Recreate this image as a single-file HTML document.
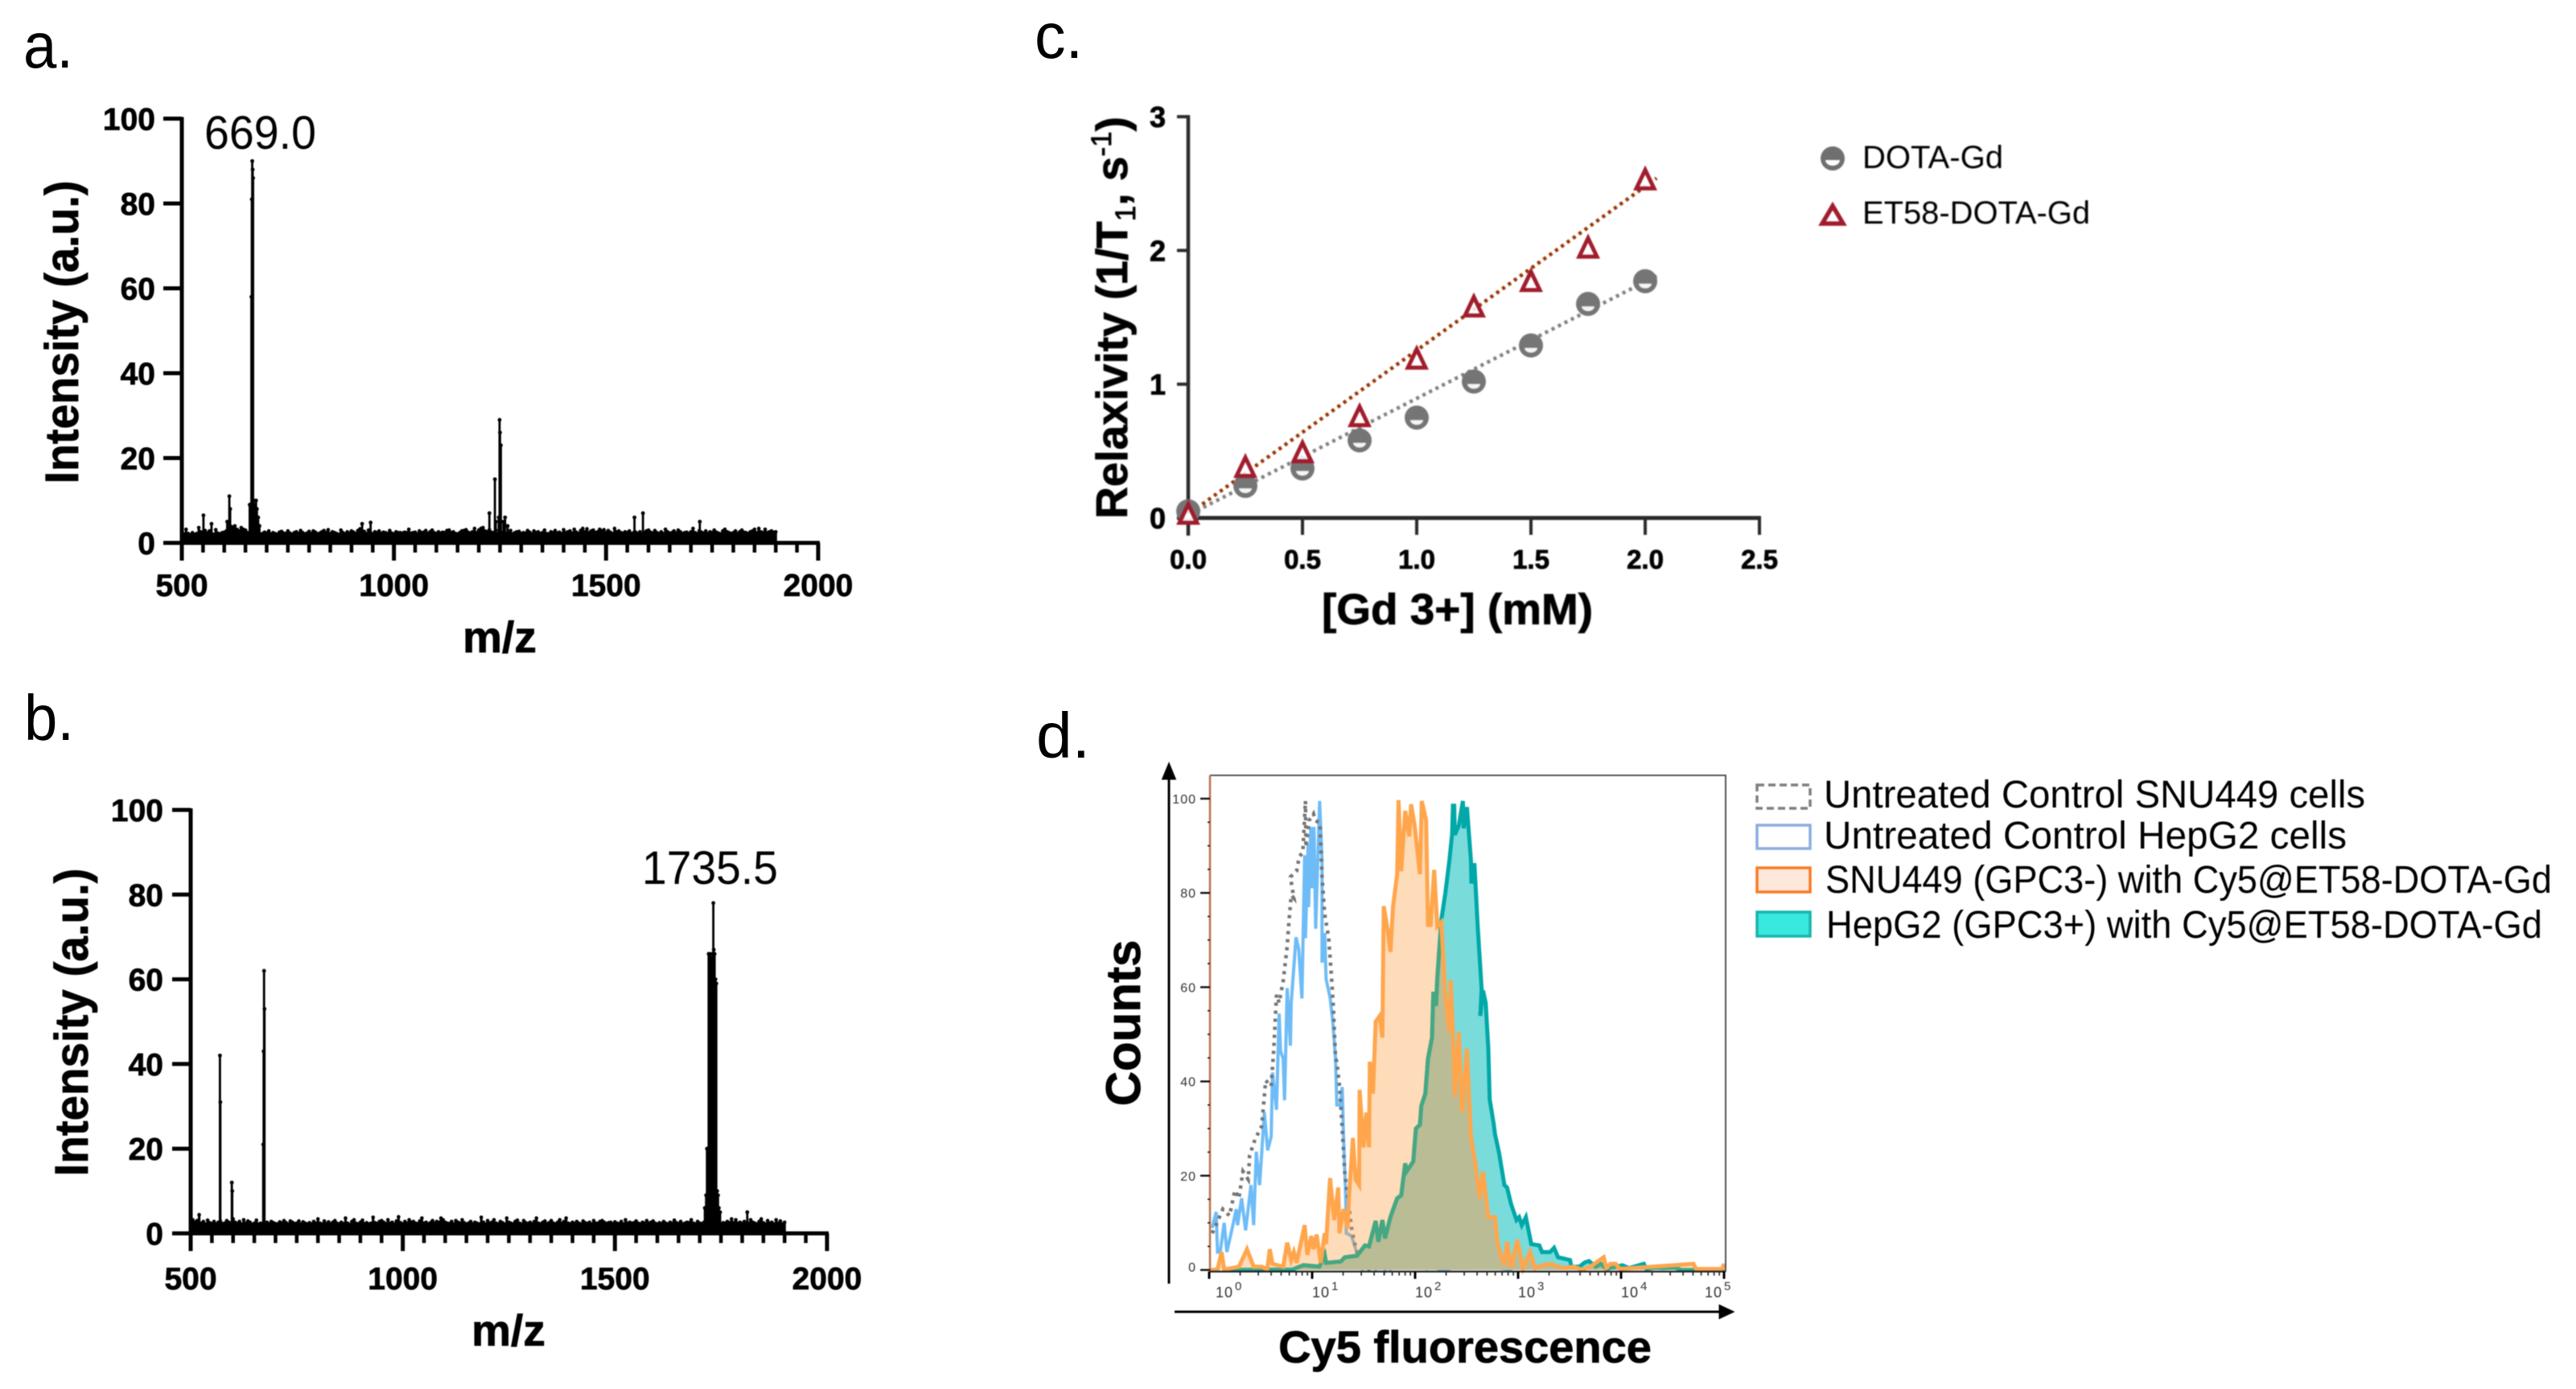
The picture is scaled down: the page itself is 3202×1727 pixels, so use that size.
<!DOCTYPE html>
<html lang="en">
<head>
<meta charset="utf-8">
<title>Characterisation of ET58-DOTA-Gd</title>
<style>
  html,body{margin:0;padding:0;background:#fff;}
  svg{display:block;}
  text{font-family:"Liberation Sans",sans-serif;fill:#000;}
  .b{font-weight:700;stroke:#000;stroke-width:.8px;}
</style>
</head>
<body>
<svg id="fig" xmlns="http://www.w3.org/2000/svg" width="3202" height="1727" viewBox="0 0 3202 1727">
  <defs>
    <clipPath id="tealClip"><path id="tealClipPath" d=""/></clipPath>
    <clipPath id="orangeClip"><path id="orangeClipPath" d=""/></clipPath>
  </defs>
  <rect x="0" y="0" width="3202" height="1727" fill="#fff"/>

  <text x="29" y="84" font-size="80" textLength="62" lengthAdjust="spacingAndGlyphs">a.</text>
  <text x="30" y="920" font-size="80" textLength="62" lengthAdjust="spacingAndGlyphs">b.</text>
  <text x="1286" y="72" font-size="80" textLength="60" lengthAdjust="spacingAndGlyphs">c.</text>
  <text x="1288" y="942" font-size="80" textLength="67" lengthAdjust="spacingAndGlyphs">d.</text>

  <g id="panelA" style="filter:blur(.6px)">
    <text class="b" transform="translate(97,413) rotate(-90)" text-anchor="middle" font-size="58" textLength="377" lengthAdjust="spacingAndGlyphs">Intensity (a.u.)</text>
    <text class="b" x="621" y="811" text-anchor="middle" font-size="55">m/z</text>
    <text x="254" y="185" font-size="58" textLength="139" lengthAdjust="spacingAndGlyphs">669.0</text>
  </g>

  <g id="panelB" style="filter:blur(.6px)">
    <text class="b" transform="translate(109,1271) rotate(-90)" text-anchor="middle" font-size="58" textLength="383" lengthAdjust="spacingAndGlyphs">Intensity (a.u.)</text>
    <text class="b" x="632" y="1673" text-anchor="middle" font-size="55">m/z</text>
    <text x="798" y="1099" font-size="58" textLength="169" lengthAdjust="spacingAndGlyphs">1735.5</text>
  </g>

  <g id="panelC" style="filter:blur(.9px)">
    <text class="b" transform="translate(1401,645) rotate(-90)" font-size="55">Relaxivity (1/T<tspan font-size="35" dy="10" font-weight="400">1</tspan><tspan dy="-10">, s</tspan><tspan font-size="35" dy="-20" font-weight="400">-1</tspan><tspan dy="20">)</tspan></text>
    <text class="b" x="1643" y="776" font-size="54" textLength="337" lengthAdjust="spacingAndGlyphs">[Gd 3+] (mM)</text>
    <g>
      <circle cx="2278" cy="197" r="15" fill="#6f6f6f"/>
      <path d="M2269 199h18a9 7 0 0 1-18 0z" fill="#fff"/>
      <text x="2315" y="209" font-size="40" textLength="175" lengthAdjust="spacingAndGlyphs">DOTA-Gd</text>
      <path d="M2278 256L2291 278H2265Z" fill="#fff" stroke="#a01c2c" stroke-width="5.5"/>
      <text x="2315" y="278" font-size="40" textLength="283" lengthAdjust="spacingAndGlyphs">ET58-DOTA-Gd</text>
    </g>
  </g>

  <g id="panelD" style="filter:blur(.5px)">
    <text class="b" transform="translate(1417,1272) rotate(-90)" text-anchor="middle" font-size="60">Counts</text>
    <text class="b" x="1821" y="1694" text-anchor="middle" font-size="56">Cy5 fluorescence</text>
    <g>
      <rect x="2184" y="976" width="66" height="29" fill="#fff" stroke="#7f7f7f" stroke-width="3.5" stroke-dasharray="9 5"/>
      <text x="2267" y="1004" font-size="48" textLength="673" lengthAdjust="spacingAndGlyphs">Untreated Control SNU449 cells</text>
      <rect x="2184" y="1026" width="66" height="29" fill="#fff" stroke="#8aaee0" stroke-width="3.5"/>
      <text x="2267" y="1055" font-size="48" textLength="650" lengthAdjust="spacingAndGlyphs">Untreated Control HepG2 cells</text>
      <rect x="2184" y="1079" width="66" height="30" fill="#fde8dc" stroke="#f97b25" stroke-width="3.5"/>
      <text x="2269" y="1110" font-size="48" textLength="903" lengthAdjust="spacingAndGlyphs">SNU449 (GPC3-) with Cy5@ET58-DOTA-Gd</text>
      <rect x="2184" y="1134" width="66" height="30" fill="#38e9df" stroke="#1ab5ac" stroke-width="3.5"/>
      <text x="2270" y="1166" font-size="48" textLength="890" lengthAdjust="spacingAndGlyphs">HepG2 (GPC3+) with Cy5@ET58-DOTA-Gd</text>
    </g>
  </g>
</svg>

<script>
/* ---------- Panel a / b: mass spectra ---------- */
const spectrumXTicks = [500, 1000, 1500, 2000];
const spectrumYTicks = [0, 20, 40, 60, 80, 100];
const spectrumMinorStep = 50;

const noiseA = [
2.6,2.1,3.2,2.2,1.9,2.4,2.0,2.2,3.6,2.6,2.1,2.9,2.3,2.8,2.2,2.0,3.1,2.3,2.1,2.4,
2.5,2.8,3.0,2.9,3.4,4.0,3.2,2.8,3.6,3.2,3.0,2.4,2.2,2.6,2.2,2.1,2.4,2.0,2.2,2.5,
2.3,2.8,2.1,2.4,2.2,2.0,2.5,2.7,2.3,2.2,2.8,2.3,2.0,2.4,2.6,2.2,2.9,2.4,2.1,2.3,
2.7,2.2,2.8,2.5,2.1,2.3,2.6,2.9,2.4,3.1,2.2,2.6,2.4,2.2,2.0,3.0,2.4,2.1,2.6,2.3,
2.8,2.5,2.2,2.9,3.3,2.4,2.7,2.2,3.0,2.4,2.1,2.6,2.4,2.8,2.2,2.5,2.4,2.2,2.9,2.3,
2.1,2.6,2.4,2.4,2.3,2.5,2.4,3.2,2.3,2.4,2.5,2.1,2.8,2.4,2.5,2.9,2.2,2.6,3.0,2.4,
2.2,2.6,2.3,2.5,2.4,2.9,3.0,2.4,2.6,2.2,2.1,2.4,2.8,2.9,3.1,2.5,2.3,2.6,3.4,2.4,
3.0,3.4,3.6,2.8,2.6,3.1,2.5,2.4,3.0,2.2,2.6,2.4,2.8,2.2,2.3,2.9,2.1,2.4,2.6,2.7,
2.2,2.4,2.3,2.9,2.5,2.1,2.8,2.4,2.6,2.2,2.4,3.0,2.2,2.1,2.6,2.4,2.9,2.3,2.5,2.2,
3.1,2.4,2.6,2.8,2.3,3.2,2.5,2.2,2.9,3.4,2.6,3.3,2.4,2.8,3.0,2.4,2.6,3.2,2.8,3.1,
2.4,2.9,2.5,2.2,3.4,2.6,2.8,2.4,2.3,2.6,2.4,2.8,2.2,2.4,2.5,2.2,2.6,2.0,2.4,2.8,
3.0,2.5,2.3,2.9,2.4,2.2,2.6,2.2,3.2,2.6,2.3,2.4,2.8,2.3,3.0,2.6,2.2,2.4,2.5,2.2,
2.6,3.4,2.4,2.2,2.9,2.5,2.3,2.8,2.2,2.6,2.4,3.0,2.5,2.3,2.1,2.8,3.2,2.6,2.4,2.2,
2.4,2.8,2.2,2.6,3.0,2.5,2.4,2.2,2.6,2.8,3.2,2.4,3.4,2.6,2.4,3.2,2.4,2.6,2.8,2.5,
2.6];
const peakMzA = [551,570,607,612,614,617,660,661,662,663,664,665,666,667,668,669,670,672,675,677,680,683,925,945,1225,1238,1240,1247,1249,1250,1252,1258,1262,1268,1567,1587,1721];
const peakIntA = [6.5,4.5,5,11,8,3.8,9,9,9,9,58,81,90,88,86,10,9,8,10,8,6,4,4.5,4.8,7,15,5,6,29,26,23,5,6,4,6,7,5];

const noiseB = [
5.5,3.2,2.6,3.0,4.4,2.4,2.8,2.2,3.1,2.5,2.3,2.8,2.2,2.6,2.9,2.3,2.4,3.0,2.6,2.2,
3.4,2.6,2.3,2.8,2.2,3.2,2.4,2.9,2.6,2.1,2.4,3.1,2.2,2.4,1.9,2.1,2.6,2.2,2.8,2.5,
2.3,2.2,2.7,2.4,3.0,2.5,2.2,2.9,2.6,2.3,2.4,2.9,2.2,2.7,2.4,2.2,2.5,2.2,2.8,2.4,
3.4,2.4,2.2,2.9,2.3,2.7,2.2,2.6,3.0,2.4,2.2,2.6,2.3,3.6,2.4,2.1,2.8,3.2,2.4,2.2,
2.6,3.1,2.3,2.5,2.2,2.4,3.8,2.5,2.3,2.8,3.0,2.6,2.3,3.2,2.4,2.6,2.2,2.9,3.9,2.5,
2.2,2.8,2.4,3.2,2.6,2.8,2.4,2.3,2.9,3.6,2.4,2.6,2.2,2.5,3.0,2.4,2.8,2.6,3.6,3.2,
2.6,2.4,2.3,2.8,2.2,3.0,2.6,2.4,3.2,2.5,2.2,2.4,2.8,2.2,2.6,2.4,2.2,3.8,2.6,2.2,
3.0,2.4,2.6,3.2,2.4,2.2,2.8,2.5,2.2,3.6,2.6,2.4,2.2,2.8,3.1,2.4,2.2,3.0,2.5,2.3,
2.6,2.2,2.8,3.6,2.4,2.2,2.6,2.9,2.3,2.5,3.0,2.4,2.2,2.6,3.2,2.4,2.8,3.6,2.4,2.2,
2.6,2.3,2.8,2.4,2.2,2.9,2.5,2.3,2.6,2.2,3.0,2.4,2.4,2.8,3.0,2.6,2.3,2.5,2.6,2.2,
2.7,2.4,2.3,2.8,2.2,3.2,2.4,2.6,2.4,2.5,2.9,2.4,2.2,2.6,2.4,3.0,2.4,2.6,2.9,2.4,
2.2,2.5,2.3,2.8,2.4,2.2,2.6,2.4,3.1,2.5,2.3,2.8,2.2,2.4,2.6,2.5,3.2,2.4,2.2,2.8,
2.4,2.3,2.6,2.9,2.2,2.5,2.4,2.8,3.0,2.6,2.2,2.5,2.4,2.8,2.5,3.4,2.5,3.2,2.4,2.6,
2.3,2.8,2.2,2.4,3.2,2.6,2.4,2.2,2.8,3.4,2.5,2.2,3.0,2.4,2.6,2.2,3.2,2.4,2.9,2.2,
2.6];
const peakMzB = [569,570,597,598,671,672,673,674,1712,1715,1717,1719,1721,1723,1725,1727,1729,1731,1732,1733,1735,1737,1739,1741,1743,1745,1748,1812];
const peakIntB = [42,31,12,10,21,43,62,53,6,9,20,20,66,64,66,62,65,66,78,67,66,60,59,10,9,6,5,5];

/* ---------- Panel c: relaxivity ---------- */
const concentration = [0, 0.25, 0.5, 0.75, 1.0, 1.25, 1.5, 1.75, 2.0];
const dotaGd = [0.05, 0.24, 0.37, 0.58, 0.75, 1.02, 1.29, 1.60, 1.77];
const et58DotaGd = [0.03, 0.38, 0.49, 0.76, 1.19, 1.58, 1.77, 2.02, 2.53];
const fitX = [0.01, 2.05];
const fitDota = [0.03, 1.81];
const fitEt58 = [0.04, 2.54];
const relaxXTicks = [0, 0.5, 1.0, 1.5, 2.0, 2.5];
const relaxYTicks = [0, 1, 2, 3];

/* ---------- Panel d: flow histograms (log10 fluorescence, % counts) ---------- */
const grayLog = [.029,.055,.133,.198,.25,.289,.328,.38,.393,.445,.51,.549,.602,.628,.654,.68,.719,.758,.771,.797,.823,.789,.849,.875,.909,.935,.94,.971,1.013,1.031,1.076,1.096,1.122,1.161,1.188,1.206,1.227,1.24,1.266,1.292,1.318,1.357,1.383,1.409,1.448,1.5,1.591];
const grayCounts = [7.8,8.9,12.9,11.5,16.9,15.2,20.9,19.2,24.3,27.7,30.5,40.2,39,47,58.4,56.7,61.3,68.7,72.9,79.5,78.9,83.4,84.6,87.7,88.6,99.5,89.7,95.4,96.8,95.4,94.8,83.4,75.5,70.4,62.1,55.6,44.8,44.2,39,30,20.3,13.5,8.9,6,2.7,.1,0];

const blueLog = [.029,.068,.081,.107,.146,.172,.224,.263,.276,.315,.354,.406,.432,.458,.49,.536,.568,.602,.615,.654,.68,.693,.719,.732,.758,.789,.797,.844,.87,.901,.927,.935,.961,.966,.987,.997,1.018,1.034,1.073,1.096,1.096,1.122,1.135,1.174,1.201,1.227,1.24,1.273,1.292,1.305,1.326,1.331,1.383,1.448,1.487,1.565,1.617,1.682,1.708,1.734,1.76,1.799,1.839,1.904,1.982,2.021,2.06,2.112,2.177,2.229,2.32,2.398,2.477,2.581,2.802,2.945];
const blueCounts = [8.9,12.3,3.8,3.8,10,3.8,8.9,12.9,9.5,15.2,8.4,18,9.5,25.1,18,33.4,25.4,28.3,41.9,34,54.4,46.5,44.8,36,59.8,47.6,56.7,70.6,68,57.6,88,70.4,90.3,77,94,81,94,72.4,99.5,86.9,65.2,71.5,61.8,57.8,52.7,44.8,35,35,38.8,28.3,15.8,7.8,7.2,2.7,.1,2.4,.1,2.1,.1,2.1,.4,3,.7,1,5,1.3,2.7,.4,2.7,.1,.1,.7,.7,.4,.4,0];

const tealLog = [.159,.81,.914,1.07,1.122,1.135,1.279,1.318,1.435,1.513,1.552,1.617,1.643,1.682,1.708,1.76,1.826,1.865,1.904,1.917,1.982,2.008,2.047,2.06,2.099,2.125,2.164,2.177,2.203,2.216,2.255,2.294,2.333,2.359,2.367,2.38,2.385,2.424,2.464,2.471,2.503,2.542,2.547,2.576,2.607,2.646,2.633,2.659,2.685,2.711,2.724,2.763,2.776,2.815,2.867,2.893,2.932,2.984,3.01,3.036,3.076,3.128,3.206,3.232,3.31,3.349,3.388,3.505,3.518,3.596,3.648,3.688,3.753,3.805,3.857,4.013,4.078,4.221,4.247,4.326,4.404,4.521,4.586,5.003];
const tealCounts = [0,.1,1,.7,3.2,1.5,1.8,2.7,3,5.2,5,10.4,6,10.6,6.7,11.2,15.2,15.8,22.6,20.9,23,30,30.8,34.8,37.4,44.8,49.3,59,56,62,74.3,80,86.9,92.5,98.5,98.5,92.3,94.3,99.5,93.7,98.2,86.9,82,86.3,73.2,59.6,53.9,59.3,56.7,47,36.2,31,28.8,24.9,18,17.5,14,10.6,11.2,9.5,11.2,5.5,5.2,3.8,3.8,4.7,2.7,2.1,.7,.7,1.6,1.9,.7,1.3,.2,1,.4,1.3,.2,.5,.4,.5,0,0];

const orangeLog = [.016,.081,.12,.146,.289,.367,.432,.51,.563,.589,.615,.719,.758,.797,.823,.849,.927,.953,.992,1.013,1.044,1.083,1.122,1.135,1.174,1.214,1.253,1.266,1.305,1.344,1.357,1.396,1.422,1.456,1.461,1.5,1.526,1.552,1.56,1.591,1.617,1.656,1.682,1.695,1.734,1.76,1.786,1.826,1.839,1.865,1.904,1.943,1.961,1.995,2.047,2.065,2.107,2.125,2.151,2.185,2.216,2.255,2.294,2.333,2.346,2.372,2.385,2.424,2.456,2.503,2.542,2.594,2.628,2.659,2.711,2.776,2.802,2.867,2.893,2.932,2.992,3.049,3.115,3.167,3.232,3.323,3.427,3.544,3.622,3.701,3.831,3.857,3.896,3.948,3.987,4.703,4.729,4.977,5.003];
const orangeCounts = [0,.1,3.8,.1,.7,4.4,.7,.7,.1,4.4,1.3,.7,5.8,2.1,3.8,1.5,9.5,3.2,7.2,4.4,7.5,1.5,7.8,5.5,19.5,10.6,17.5,7.8,12.9,8.9,15.2,28,19.2,18,38.2,26,33.4,26,44.2,37.4,52.7,53.9,49.3,77.2,72,67.5,77.2,84,99.7,84.6,97.4,92,98.8,94.3,84,99.5,95.4,73.2,73.2,84.9,72.9,73.8,58.4,50.5,61.5,47.6,36.8,50.5,33.4,47,28.3,21.4,15.2,20.9,11.2,11.2,5.5,1,6,.4,6.4,.4,3.8,.4,1,1.3,.4,.7,0,.7,2.7,.4,1.3,1.3,.2,1.3,.2,.2,1.3];

const histYTicks = [0, 20, 40, 60, 80, 100];
const histMinorStep = 5;
const histDecades = [0, 1, 2, 3, 4, 5];
const histMinorFactors = [2, 3, 4, 5, 6, 7, 8, 9];

/* ---------- helpers ---------- */
const NS = 'http://www.w3.org/2000/svg';
function mk(parent, tag, attrs, txt) {
  const n = document.createElementNS(NS, tag);
  for (const k in attrs) n.setAttribute(k, attrs[k]);
  if (txt !== undefined) n.textContent = txt;
  parent.appendChild(n);
  return n;
}
function linePath(xs, ys) {
  return xs.map((v, i) => (i ? 'L' : 'M') + v.toFixed(1) + ' ' + ys[i].toFixed(1)).join('');
}

/* ---------- spectrum drawing ---------- */
function drawSpectrum(gId, key, x0, x1, y0, y100, labelRight, labelBase, noise, peakMz, peakInt) {
  const g = document.getElementById(gId);
  const sx = v => x0 + (v - 500) * (x1 - x0) / 1500;
  const sy = v => y0 + v * (y100 - y0) / 100;
  const stems = mk(g, 'g', {});
  
  
  noise.forEach((v, i) => {
    const mz = 500 + i * 1400 / (noise.length - 1);
    const st = mk(stems, 'line', {x1: sx(mz), x2: sx(mz), y1: y0, y2: sy(v), stroke: '#000', 'stroke-width': 3.2});
    
    
    const d = mk(stems, 'circle', {cx: sx(mz), cy: sy(v), r: 2.3, fill: '#000'});
    
    
  });
  peakMz.forEach((m, i) => {
    const st = mk(stems, 'line', {x1: sx(m), x2: sx(m), y1: y0, y2: sy(peakInt[i]), stroke: '#000', 'stroke-width': 2.8});
    
    
    const d = mk(stems, 'circle', {cx: sx(m), cy: sy(peakInt[i]), r: 2.4, fill: '#000'});
    
    
  });
  const yAxis = mk(g, 'line', {x1: x0, x2: x0, y1: y100 - 2, y2: y0 + 22, stroke: '#000', 'stroke-width': 5});
  
  
  const xAxis = mk(g, 'line', {x1: x0, x2: x1 + 2, y1: y0, y2: y0, stroke: '#000', 'stroke-width': 5});
  
  
  spectrumYTicks.forEach(v => {
    const t = mk(g, 'line', {x1: x0 - 23, x2: x0, y1: sy(v), y2: sy(v), stroke: '#000', 'stroke-width': 5});
    
    
    const l = mk(g, 'text', {x: labelRight, y: sy(v) + 14, 'text-anchor': 'end', 'font-size': 39, 'font-weight': 700, style: 'stroke:#000;stroke-width:.7px'}, String(v));
    
    
  });
  for (let v = 500; v <= 2000; v += spectrumMinorStep) {
    const major = spectrumXTicks.includes(v);
    const t = mk(g, 'line', {x1: sx(v), x2: sx(v), y1: y0, y2: y0 + (major ? 22 : 12), stroke: '#000', 'stroke-width': major ? 5 : 4.5});
    
    
  }
  spectrumXTicks.forEach(v => {
    const l = mk(g, 'text', {x: sx(v), y: labelBase, 'text-anchor': 'middle', 'font-size': 39, 'font-weight': 700, style: 'stroke:#000;stroke-width:.7px'}, String(v));
    
    
  });
}
drawSpectrum('panelA', 'a', 226, 1017, 675, 147.5, 193, 741, noiseA, peakMzA, peakIntA);
drawSpectrum('panelB', 'b', 237, 1028, 1533.5, 1007, 203, 1603, noiseB, peakMzB, peakIntB);

/* ---------- relaxivity ---------- */
(function () {
  const g = document.getElementById('panelC');
  const sx = v => 1477 + v * 284;
  const sy = v => 644 - v * 166.3;
  const axes = mk(g, 'g', {});
  
  
  const ya = mk(axes, 'line', {x1: sx(0), x2: sx(0), y1: sy(3) - 2, y2: sy(0) + 22, stroke: '#2a2a2a', 'stroke-width': 4.5});
  
  
  const xa = mk(axes, 'line', {x1: sx(0) - 14, x2: sx(2.5) + 2, y1: sy(0), y2: sy(0), stroke: '#2a2a2a', 'stroke-width': 5});
  
  
  relaxYTicks.forEach(v => {
    const t = mk(axes, 'line', {x1: sx(0) - 14, x2: sx(0), y1: sy(v), y2: sy(v), stroke: '#2a2a2a', 'stroke-width': 4});
    
    
    const l = mk(axes, 'text', {x: 1449, y: sy(v) + 13, 'text-anchor': 'end', 'font-size': 36, 'font-weight': 700, style: 'stroke:#000;stroke-width:.8px'}, String(v));
    
    
  });
  relaxXTicks.forEach(v => {
    const t = mk(axes, 'line', {x1: sx(v), x2: sx(v), y1: sy(0), y2: sy(0) + 21, stroke: '#2a2a2a', 'stroke-width': 4});
    
    
    const l = mk(axes, 'text', {x: sx(v), y: 707, 'text-anchor': 'middle', 'font-size': 33, 'font-weight': 700, style: 'stroke:#000;stroke-width:.8px'}, v.toFixed(1));
    
    
  });
  const fa = mk(g, 'line', {x1: sx(fitX[0]), x2: sx(fitX[1]), y1: sy(fitDota[0]), y2: sy(fitDota[1]), stroke: '#808080', 'stroke-width': 4.5, 'stroke-dasharray': '4 5'});
  
  
  const fb = mk(g, 'line', {x1: sx(fitX[0]), x2: sx(fitX[1]), y1: sy(fitEt58[0]), y2: sy(fitEt58[1]), stroke: '#993300', 'stroke-width': 4.5, 'stroke-dasharray': '4 5'});
  
  
  concentration.forEach((c, i) => {
    const cx = sx(c), cy = sy(dotaGd[i]);
    const o = mk(g, 'circle', {cx: cx, cy: cy, r: 15, fill: '#757575'});
    
    
    const h = mk(g, 'path', {d: `M${cx - 8} ${cy + 3}h16a8 6 0 0 1-16 0z`, fill: '#f4f4f4'});
    
    
  });
  concentration.forEach((c, i) => {
    const cx = sx(c), cy = sy(et58DotaGd[i]);
    const t = mk(g, 'path', {d: `M${cx} ${cy - 12}L${cx + 11} ${cy + 11}H${cx - 11}Z`, fill: 'rgba(255,255,255,.85)', stroke: '#a01c2c', 'stroke-width': 5});
    
    
  });
})();

/* ---------- flow histogram ---------- */
(function () {
  const g = document.getElementById('panelD');
  const sx = v => 1503 + v * 128;
  const sy = v => 1579 - v * 5.86;
  const arrowY = mk(g, 'path', {d: 'M1453 1596V962M1446 968L1453 951L1460 968Z', stroke: '#000', 'stroke-width': 3, fill: '#000'});
  
  
  const arrowX = mk(g, 'path', {d: 'M1460 1631H2142M2138 1624L2153 1631L2138 1638Z', stroke: '#000', 'stroke-width': 3, fill: '#000'});
  
  

  const gray = mk(g, 'path', {d: linePath(grayLog.map(sx), grayCounts.map(sy)), fill: 'none', stroke: '#767676', 'stroke-width': 4.5, 'stroke-dasharray': '4 6'});
  const blue = mk(g, 'path', {d: linePath(blueLog.map(sx), blueCounts.map(sy)), fill: 'none', stroke: '#6ebcf7', 'stroke-width': 4});
  
  
  g.appendChild(gray);
  
  

  const closeArea = (xs, ys) => linePath(xs, ys) + `L${xs[xs.length - 1]} ${sy(0)}L${xs[0]} ${sy(0)}Z`;
  const tealArea = closeArea(tealLog.map(sx), tealCounts.map(sy));
  const orangeArea = closeArea(orangeLog.map(sx), orangeCounts.map(sy));
  const tealLine = linePath(tealLog.map(sx), tealCounts.map(sy));
  document.getElementById('tealClipPath').setAttribute('d', tealArea);
  document.getElementById('orangeClipPath').setAttribute('d', orangeArea);

  const tealFill = mk(g, 'path', {d: tealArea, fill: '#7adbdb', stroke: 'none'});
  
  
  const teal = mk(g, 'path', {d: tealLine, fill: 'none', stroke: '#00a8a8', 'stroke-width': 5});
  
  
  const orangeFill = mk(g, 'path', {d: orangeArea, fill: 'rgba(252,160,70,.38)', stroke: 'none'});
  
  
  const overlap = mk(g, 'path', {d: orangeArea, fill: 'rgba(230,165,110,.25)', stroke: 'none', 'clip-path': 'url(#tealClip)'});
  
  
  const tealUnder = mk(g, 'path', {d: tealLine, fill: 'none', stroke: '#45a883', 'stroke-width': 5, 'clip-path': 'url(#orangeClip)'});
  
  
  const orange = mk(g, 'path', {d: linePath(orangeLog.map(sx), orangeCounts.map(sy)), fill: 'none', stroke: '#ffa64d', 'stroke-width': 5});
  
  

  const box = mk(g, 'path', {d: 'M1504 964H2145V1581', fill: 'none', stroke: '#444', 'stroke-width': 1.8});
  
  
  const leftSpine = mk(g, 'line', {x1: 1504, x2: 1504, y1: 964, y2: 1581, stroke: '#b9764f', 'stroke-width': 2.6});
  
  
  const baseline = mk(g, 'line', {x1: 1504, x2: 2145, y1: 1581, y2: 1581, stroke: '#222', 'stroke-width': 2.2});
  
  

  for (let v = 0; v <= 100; v += histMinorStep) {
    const major = histYTicks.includes(v);
    const t = mk(g, 'line', {x1: major ? 1492 : 1501, x2: 1504, y1: sy(v), y2: sy(v), stroke: '#111', 'stroke-width': major ? 2.4 : 1.6});
    
    
  }
  histYTicks.forEach(v => {
    const l = mk(g, 'text', {x: 1487, y: sy(v) + (v === 0 ? 2 : 6), 'text-anchor': 'end', 'font-size': 16, 'letter-spacing': 1, style: 'fill:#333'}, String(v));
    
    
  });
  histDecades.forEach(d => {
    const t = mk(g, 'line', {x1: sx(d), x2: sx(d), y1: 1581, y2: 1590, stroke: '#000', 'stroke-width': 3});
    
    
    if (d < 5) {
      histMinorFactors.forEach(f => {
        const m = mk(g, 'line', {x1: sx(d + Math.log10(f)), x2: sx(d + Math.log10(f)), y1: 1581, y2: 1586, stroke: '#222', 'stroke-width': 1.6});
        
        
      });
    }
    const shift = d === 0 ? 8 : (d === 5 ? -24 : 0);
    const l = mk(g, 'text', {x: sx(d) + shift, y: 1613, 'font-size': 18, 'letter-spacing': 1, style: 'fill:#333'}, '10');
    
    
    const e = mk(l, 'tspan', {'font-size': 15, dy: -9, dx: 2}, String(d));
    
    
  });
})();
</script>
</body>
</html>
